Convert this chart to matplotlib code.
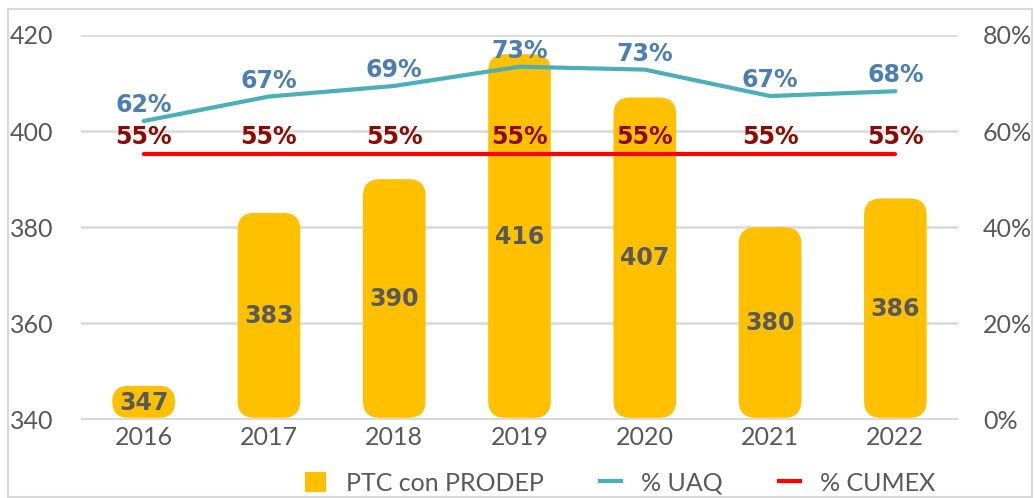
import matplotlib
matplotlib.use("Agg")
import matplotlib.pyplot as plt
from matplotlib.patches import FancyBboxPatch, Patch, Rectangle
from matplotlib.lines import Line2D

years = ["2016", "2017", "2018", "2019", "2020", "2021", "2022"]
ptc_prodep = [347, 383, 390, 416, 407, 380, 386]
uaq_pct = [0.621, 0.672, 0.694, 0.734, 0.728, 0.673, 0.683]
cumex_pct = [0.552, 0.552, 0.552, 0.552, 0.552, 0.552, 0.552]
cumex_labels = ["55%"] * 7
left_ticks = [340, 360, 380, 400, 420]
right_ticks = [0, 0.2, 0.4, 0.6, 0.8]

GOLD = "#FFC000"
TEAL = "#4BAFB7"
RED = "#FF0000"
BLUE_LBL = "#4A7EB5"
RED_LBL = "#8E0A00"
GRAY_TXT = "#595959"
GRID = "#D9D9D9"
FONT = "Lato"
BFONT = "DejaVu Sans"
TS = 18
LS = 17

W, H = 1035, 498
fig = plt.figure(figsize=(W / 100, H / 100), dpi=100)
fig.patch.set_facecolor("white")

ax_l, ax_r, ax_t, ax_b = 81, 958, 35, 419.5
ax = fig.add_axes([ax_l / W, 1 - ax_b / H, (ax_r - ax_l) / W, (ax_b - ax_t) / H])
ax.set_xlim(-0.5, len(years) - 0.5)
ax.set_ylim(340, 420)
ax.set_yticks(left_ticks)
ax.set_yticklabels([str(t) for t in left_ticks])
ax.yaxis.grid(True, color=GRID, lw=1.8)
ax.set_axisbelow(True)
for s in ax.spines.values():
    s.set_visible(False)
ax.tick_params(axis="y", length=0, pad=20, labelsize=TS, labelcolor=GRAY_TXT)
ax.tick_params(axis="x", length=0, pad=5, labelsize=TS, labelcolor=GRAY_TXT)

x = list(range(len(years)))
bars = ax.bar(x, [v - 340 for v in ptc_prodep], bottom=340, width=0.5,
              color=GOLD, zorder=2)
ax.set_xticks(x)
ax.set_xticklabels(years)
for lbl in ax.get_yticklabels() + ax.get_xticklabels():
    lbl.set_fontfamily(FONT)

# rounded bars
bb = ax.get_position()
px_per_x = bb.width * W / (ax.get_xlim()[1] - ax.get_xlim()[0])
px_per_y = bb.height * H / (ax.get_ylim()[1] - ax.get_ylim()[0])
aspect = px_per_x / px_per_y
radius_px = 17
for rect, v in zip(bars.patches, ptc_prodep):
    x0, y0 = rect.get_x(), rect.get_y() + 0.35
    w, h = rect.get_width(), rect.get_height() - 0.35
    r = min(radius_px / px_per_x, (h * px_per_y / 2) / px_per_x)
    rect.set_visible(False)
    p = FancyBboxPatch((x0, y0), w, h,
                       boxstyle=f"round,pad=0,rounding_size={r}",
                       mutation_aspect=aspect, facecolor=GOLD, edgecolor="none",
                       zorder=2)
    ax.add_patch(p)
    ax.text(x0 + w / 2, 340 + (v - 340) / 2, str(v), ha="center", va="center",
            fontsize=LS, fontweight="bold", color=GRAY_TXT, fontfamily=BFONT,
            zorder=5)

ax2 = ax.twinx()
ax2.set_ylim(0, 0.8)
ax2.set_yticks(right_ticks)
ax2.set_yticklabels([f"{int(round(t * 100))}%" for t in right_ticks])
for s in ax2.spines.values():
    s.set_visible(False)
ax2.tick_params(axis="y", length=0, pad=18, labelsize=TS, labelcolor=GRAY_TXT)
for lbl in ax2.get_yticklabels():
    lbl.set_fontfamily(FONT)

ax2.plot(x, uaq_pct, color=TEAL, lw=3, solid_capstyle="round", zorder=3)
ax2.plot(x, cumex_pct, color=RED, lw=3, solid_capstyle="round", zorder=3)
for xi, v in zip(x, uaq_pct):
    ax2.annotate(f"{round(v * 100)}%", (xi, v), xytext=(0, 11.5),
                 textcoords="offset points", ha="center", va="center",
                 fontsize=LS, fontweight="bold", color=BLUE_LBL, fontfamily=BFONT,
                 zorder=6)
for xi, v, t in zip(x, cumex_pct, cumex_labels):
    ax2.annotate(t, (xi, v), xytext=(0, 12.3),
                 textcoords="offset points", ha="center", va="center",
                 fontsize=LS, fontweight="bold", color=RED_LBL, fontfamily=BFONT,
                 zorder=6)

# bottom axis line
ax.axhline(340, color=GRID, lw=2.2, zorder=1.5)

handles = [Patch(facecolor=GOLD, edgecolor="none"),
           Line2D([0], [0], color=TEAL, lw=3),
           Line2D([0], [0], color=RED, lw=3)]
leg = fig.legend(handles, ["PTC con PRODEP", "% UAQ", "% CUMEX"],
                 loc="center", bbox_to_anchor=(620 / W, 1 - 483 / H),
                 ncol=3, frameon=False, handlelength=0.84, handleheight=0.84,
                 handletextpad=0.8, columnspacing=2.24, borderpad=0,
                 prop={"family": FONT, "size": TS})
for t in leg.get_texts():
    t.set_color(GRAY_TXT)

fig.patches.append(Rectangle((8 / W, 1 - 497 / H), (1032 - 8) / W, (497 - 9) / H,
                             transform=fig.transFigure, fill=False,
                             edgecolor=GRID, lw=1.5, zorder=10))

fig.savefig("out.png", dpi=100)
